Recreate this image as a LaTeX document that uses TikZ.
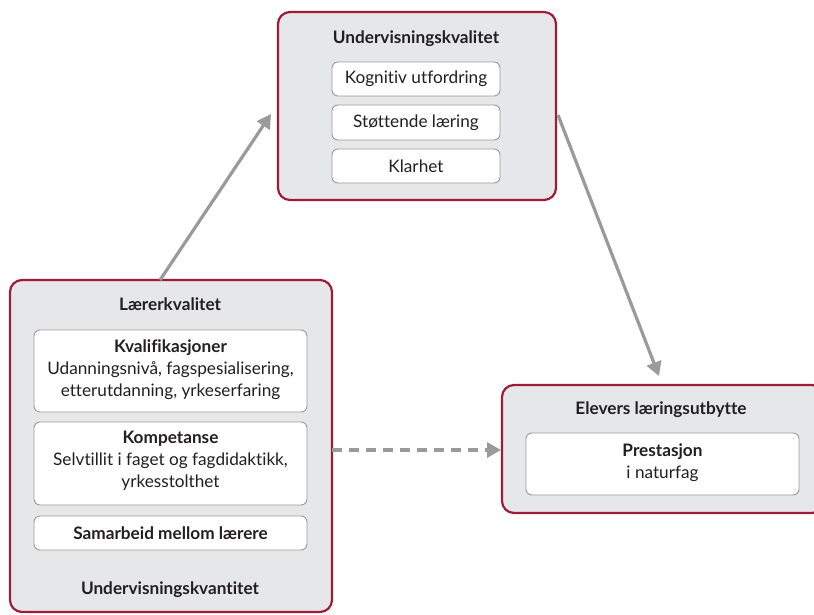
\documentclass[tikz,border=0pt]{standalone}
\usepackage{fontspec}
\setmainfont{Lato}[Ligatures={NoCommon,NoRare}]
\usetikzlibrary{arrows.meta}
\definecolor{frame}{HTML}{9E1B3A}
\definecolor{panel}{HTML}{E6E7E9}
\definecolor{innerline}{HTML}{9A9A9A}
\definecolor{arrowgray}{HTML}{9A9A9A}
\definecolor{txt}{HTML}{231F20}
\begin{document}
\begin{tikzpicture}[x=1pt,y=-1pt,
  outerbox/.style={draw=frame,fill=panel,line width=2.2pt,rounded corners=12pt},
  innerbox/.style={draw=innerline,fill=white,line width=0.9pt,rounded corners=6pt},
  lbl/.style={font=\fontsize{17.2}{22}\selectfont,text=txt,align=center,inner sep=0pt},
  blbl/.style={lbl,font=\fontsize{17.2}{22}\selectfont\bfseries},
  conn/.style={draw=arrowgray,line width=3.2pt,-{Triangle[length=14pt,width=15pt]}},
  dconn/.style={conn,dash pattern=on 10pt off 7pt}
]
\useasboundingbox (0,0) rectangle (814,615);
% top box
\draw[outerbox] (278,12) rectangle (556,200);
\node[blbl] (tuk) at (416,39) {Undervisningskvalitet};
\draw[innerbox] (332,62) rectangle (500,96);
\node[lbl] (k1) at (416,79) {Kognitiv utfordring};
\draw[innerbox] (332,105) rectangle (500,140);
\node[lbl] (k2) at (416,122.5) {Støttende læring};
\draw[innerbox] (332,149) rectangle (500,183);
\node[lbl] (k3) at (416,166) {Klarhet};
% left box
\draw[outerbox] (10,280) rectangle (332,612);
\node[blbl] (lk) at (170,304) {Lærerkvalitet};
\draw[innerbox] (34,330) rectangle (307,412);
\node[lbl] (kv) at (170.5,370) {\textbf{Kvalifikasjoner}\\Udanningsnivå, fagspesialisering,\\etterutdanning, yrkeserfaring};
\draw[innerbox] (34,422) rectangle (307,505);
\node[lbl] (ko) at (170.5,461) {\textbf{Kompetanse}\\Selvtillit i faget og fagdidaktikk,\\yrkesstolthet};
\draw[innerbox] (34,516) rectangle (307,550);
\node[blbl] (sa) at (170.5,533) {Samarbeid mellom lærere};
\node[blbl] (uk) at (170,590) {Undervisningskvantitet};
% right box
\draw[outerbox] (502,385) rectangle (824,513);
\node[blbl] (el) at (661,410) {Elevers læringsutbytte};
\draw[innerbox] (526,433) rectangle (799,495);
\node[lbl] (pr) at (662.5,463) {\textbf{Prestasjon}\\i naturfag};
% named anchors
\coordinate (a1s) at (160,280);
\coordinate (a1e) at (271,114);
\coordinate (a2s) at (558,115);
\coordinate (a2e) at (659,376);
\coordinate (a3s) at (332,450);
\coordinate (a3e) at (501,450);
\draw[conn] (a1s) -- (a1e);
\draw[conn] (a2s) -- (a2e);
\draw[dconn] (a3s) -- (a3e);
\end{tikzpicture}
\end{document}
